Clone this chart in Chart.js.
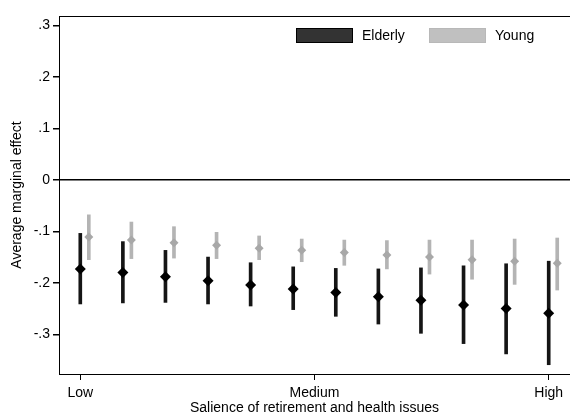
<!DOCTYPE html>
<html>
<head>
<meta charset="utf-8">
<script src="https://cdn.jsdelivr.net/npm/chart.js@4/dist/chart.umd.min.js"></script>
<style>
  html, body { margin: 0; padding: 0; background: #fff; }
  #wrap { width: 570px; height: 412px; }
</style>
</head>
<body>
<div id="wrap"><canvas id="c"></canvas></div>
<script>
// salience steps, Low = 0 .. High = 11
const salience = [0, 1, 2, 3, 4, 5, 6, 7, 8, 9, 10, 11];
const youngShift = 0.2;

const elderlyEst = [-0.173, -0.180, -0.188, -0.196, -0.204, -0.212, -0.219, -0.227, -0.234, -0.243, -0.250, -0.259];
const elderlyLo  = [-0.241, -0.239, -0.238, -0.241, -0.245, -0.252, -0.265, -0.280, -0.298, -0.318, -0.338, -0.359];
const elderlyHi  = [-0.104, -0.120, -0.137, -0.150, -0.161, -0.169, -0.172, -0.173, -0.171, -0.167, -0.163, -0.158];

const youngEst = [-0.111, -0.117, -0.122, -0.127, -0.133, -0.137, -0.141, -0.146, -0.150, -0.155, -0.158, -0.162];
const youngLo  = [-0.155, -0.153, -0.152, -0.153, -0.155, -0.159, -0.166, -0.173, -0.183, -0.193, -0.203, -0.214];
const youngHi  = [-0.068, -0.082, -0.091, -0.102, -0.109, -0.115, -0.117, -0.118, -0.117, -0.117, -0.115, -0.113];

const xTickValues = [0, 5.5, 11];
const xTickLabels = ['Low', 'Medium', 'High'];
const yTickValues = [-0.3, -0.2, -0.1, 0, 0.1, 0.2, 0.3];
const yTickLabels = ['-.3', '-.2', '-.1', '0', '.1', '.2', '.3'];

const ELDER = '#151515';
const YOUNG = '#b4b4b4';
const FONT = "'Liberation Sans', Arial, sans-serif";

Chart.defaults.font.family = FONT;
Chart.defaults.font.size = 14;
Chart.defaults.color = '#000';

// legend drawn inside the plot region + top border of the plot region
const framePlugin = {
  id: 'frame',
  afterDraw(chart) {
    const ctx = chart.ctx;
    const a = chart.chartArea;
    ctx.save();
    ctx.strokeStyle = '#000';
    ctx.lineWidth = 1;
    ctx.beginPath();
    ctx.moveTo(a.left, a.top + 0.5);
    ctx.lineTo(a.right, a.top + 0.5);
    ctx.stroke();

    const items = [
      { label: 'Elderly', fill: '#333333', stroke: '#000', x: 296 },
      { label: 'Young', fill: '#c0c0c0', stroke: '#b8b8b8', x: 429 }
    ];
    ctx.font = '14px ' + FONT;
    ctx.textBaseline = 'middle';
    items.forEach(it => {
      ctx.fillStyle = it.fill;
      ctx.fillRect(it.x, 28, 57, 15);
      ctx.strokeStyle = it.stroke;
      ctx.strokeRect(it.x + 0.5, 28.5, 56, 14);
      ctx.fillStyle = '#000';
      ctx.fillText(it.label, it.x + 66, 36);
    });
    ctx.restore();
  }
};

const ciData = (lo, hi, shift) => salience.map((s, i) => ({ x: s + shift, y: [lo[i], hi[i]] }));
const ptData = (est, shift) => salience.map((s, i) => ({ x: s + shift, y: est[i] }));

new Chart(document.getElementById('c'), {
  type: 'scatter',
  data: {
    datasets: [
      {
        label: 'Elderly',
        data: ptData(elderlyEst, 0),
        pointStyle: 'rectRot',
        radius: 5.5,
        backgroundColor: '#000',
        borderColor: '#000',
        borderWidth: 0,
        order: 0
      },
      {
        label: 'Young',
        data: ptData(youngEst, youngShift),
        pointStyle: 'rectRot',
        radius: 4.5,
        backgroundColor: '#a8a8a8',
        borderColor: '#a8a8a8',
        borderWidth: 0,
        order: 0
      },
      {
        type: 'bar',
        label: 'Elderly CI',
        data: ciData(elderlyLo, elderlyHi, 0),
        backgroundColor: ELDER,
        barThickness: 3,
        grouped: false,
        order: 1
      },
      {
        type: 'bar',
        label: 'Young CI',
        data: ciData(youngLo, youngHi, youngShift),
        backgroundColor: YOUNG,
        barThickness: 3,
        grouped: false,
        order: 1
      }
    ]
  },
  options: {
    responsive: true,
    maintainAspectRatio: false,
    animation: false,
    layout: { autoPadding: false, padding: { top: 16, right: 0, left: 0, bottom: 0 } },
    plugins: {
      legend: { display: false },
      tooltip: { enabled: false }
    },
    scales: {
      x: {
        type: 'linear',
        min: -0.5,
        max: 11.5,
        offset: false,
        afterFit: s => { s.height = 38; s.paddingLeft = 0; s.paddingRight = 0; },
        afterBuildTicks: s => { s.ticks = xTickValues.map(v => ({ value: v })); },
        ticks: {
          padding: 5,
          maxRotation: 0,
          autoSkip: false,
          callback: v => xTickLabels[xTickValues.indexOf(v)]
        },
        grid: { offset: false, drawOnChartArea: false, tickLength: 6, color: '#000' },
        border: { display: true, color: '#000', width: 1 },
        title: {
          display: true,
          text: 'Salience of retirement and health issues',
          font: { lineHeight: 0.6 },
          padding: { top: 0, bottom: 0 }
        }
      },
      y: {
        min: -0.377,
        max: 0.318,
        afterFit: s => { s.width = 59; },
        afterBuildTicks: s => { s.ticks = yTickValues.map(v => ({ value: v })); },
        ticks: {
          padding: 3,
          callback: v => yTickLabels[yTickValues.findIndex(t => Math.abs(t - v) < 1e-9)]
        },
        grid: {
          drawTicks: true,
          tickLength: 6,
          tickColor: '#000',
          lineWidth: 1.5,
          color: c => (c.tick && Math.abs(c.tick.value) < 1e-9 ? '#000' : 'rgba(0,0,0,0)')
        },
        border: { display: true, color: '#000', width: 1 },
        title: {
          display: true,
          text: 'Average marginal effect',
          padding: { top: 9, bottom: 0 }
        }
      }
    }
  },
  plugins: [framePlugin]
});
</script>
</body>
</html>
